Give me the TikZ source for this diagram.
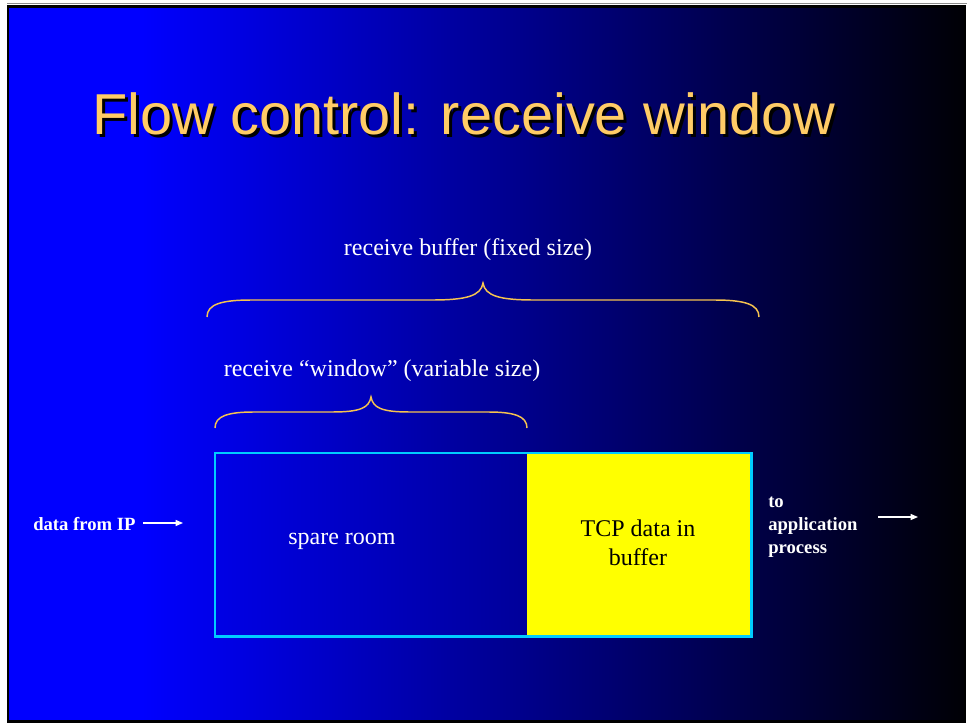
\documentclass[tikz,border=0pt]{standalone}
\usepackage{fontspec}
\setmainfont{Liberation Serif}
\newfontfamily\titlefont{Liberation Sans}
\usetikzlibrary{arrows.meta}

\definecolor{titlegold}{RGB}{255,204,102}
\definecolor{bracegold}{RGB}{245,195,80}
\definecolor{edgecyan}{RGB}{0,204,255}
\definecolor{buffyellow}{RGB}{255,255,0}

% slide background: bright blue on the left fading to black on the right
\pgfdeclarehorizontalshading{slidebg}{100bp}{rgb(0bp)=(0,0,1); rgb(25bp)=(0,0,1); rgb(32bp)=(0,0,1); rgb(75bp)=(0,0,0.02); rgb(100bp)=(0,0,0.02)}
% free part of the receive buffer
\pgfdeclarehorizontalshading{sparebg}{100bp}{rgb(0bp)=(0,0,0.9); rgb(25bp)=(0,0,0.9); rgb(75bp)=(0,0,0.6); rgb(100bp)=(0,0,0.6)}

\begin{document}
\begin{tikzpicture}[x=0.75pt,y=-0.75pt,
  titletxt/.style={inner sep=0pt, font=\titlefont\fontsize{43.3}{50}\selectfont},
  bodytxt/.style={inner sep=0pt, text=white, font=\fontsize{18}{21.75}\selectfont},
  smalltxt/.style={inner sep=0pt, text=white, align=left, font=\fontsize{14}{17.25}\selectfont\bfseries},
  bracepath/.style={draw=bracegold, line width=1.1pt},
  flowarrow/.style={draw=white, line width=0.9pt, -{Triangle[length=5.5pt,width=4.5pt]}},
  bufpart/.style={inner sep=0pt, anchor=north west, minimum height=137.25pt}
]
\useasboundingbox (0,0) rectangle (967,723);
\fill[white] (0,0) rectangle (967,723);
\draw[black!45, line width=0.75pt] (7,4) -- (967,4);
\path[shading=slidebg, draw=black, line width=2pt] (8,6.5) rectangle (965,721.5);

% title with drop shadow
\node[titletxt, text=black, anchor=base] (titleshadow) at (467,138) {Flow control: receive window};
\node[titletxt, text=titlegold, anchor=base] (title) at (464,135) {Flow control: receive window};

% labels and braces
\node[bodytxt, anchor=base] (bufferlbl) at (468,256) {receive buffer (fixed size)};
\draw[bracepath] (207,317) .. controls (207,304) and (222,300) .. (252,300)
  -- (432,300) .. controls (466,300) and (481,296) .. (483,283)
  .. controls (485,296) and (500,300) .. (534,300)
  -- (714,300) .. controls (744,300) and (759,304) .. (759,317);

\node[bodytxt, anchor=base] (windowlbl) at (382,377) {receive “window” (variable size)};
\draw[bracepath] (215,428) .. controls (215,416) and (228,412) .. (254,412)
  -- (332,412) .. controls (360,412) and (369,408) .. (371,397)
  .. controls (373,408) and (382,412) .. (410,412)
  -- (488,412) .. controls (514,412) and (527,416) .. (527,428);

% receive buffer
\node[bufpart, shading=sparebg, minimum width=234pt] (spare) at (215,453) {};
\node[bufpart, fill=buffyellow, minimum width=168pt] (tcpbuf) at (527,453) {};
\draw[edgecyan, line width=2.2pt] (spare.north west) rectangle (tcpbuf.south east);

\node[bodytxt, anchor=base] (sparelbl) at (342,544) {spare room};
\node[bodytxt, text=black, align=center, anchor=center] (tcplbl) at (638,543) {TCP data in\\buffer};

% data entering and leaving
\node[smalltxt, anchor=base west] (dataip) at (33,530) {data from IP};
\coordinate (inTail) at (143,523);
\coordinate (inHead) at (183,523);
\draw[flowarrow] (inTail) -- (inHead);

\node[smalltxt, anchor=north west] (toapp) at (768,497) {to\\application\\process};
\coordinate (outTail) at (878,517);
\coordinate (outHead) at (918,517);
\draw[flowarrow] (outTail) -- (outHead);
\end{tikzpicture}
\end{document}
